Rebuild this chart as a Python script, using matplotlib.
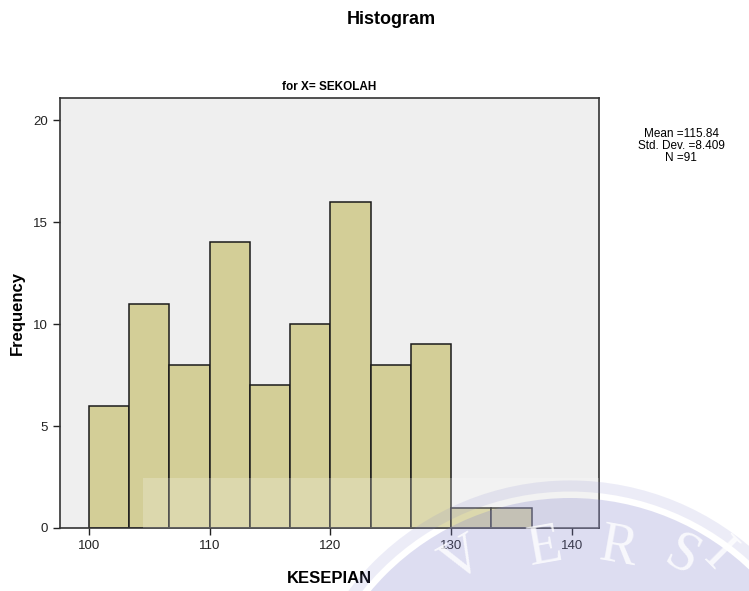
import numpy as np
import matplotlib.pyplot as plt
from matplotlib.patches import Rectangle, Circle
from matplotlib.transforms import IdentityTransform

plt.rcParams['font.family'] = ['Liberation Sans', 'DejaVu Sans']

# histogram of KESEPIAN scores, SEKOLAH group
bin_start = 100.0
bin_width = 40.0 / 12
counts = [6, 11, 8, 14, 7, 10, 16, 8, 9, 1, 1]
x_ticks = [100, 110, 120, 130, 140]
y_ticks = [0, 5, 10, 15, 20]
stats_lines = ["Mean =115.84", "Std. Dev. =8.409", "N =91"]
seal_letters = ["V", "E", "R", "S", "I"]

edges = bin_start + bin_width * np.arange(len(counts) + 1)

W, H = 749, 591
fig = plt.figure(figsize=(W / 100, H / 100), dpi=100)
ax = fig.add_axes([60 / W, 1 - 528 / H, 539 / W, 430 / H])
ax.set_facecolor("#EFEFEF")

ax.bar(edges[:-1], counts, width=bin_width, align="edge",
       color="#D3CE97", edgecolor="#1a1a1a", linewidth=1.1, zorder=2)

ax.set_xlim(97.6, 142.25)
ax.set_ylim(0, 21.08)
ax.set_xticks(x_ticks)
ax.set_yticks(y_ticks)
ax.tick_params(direction="out", length=5, width=1, labelsize=9.5, colors="#222222")
for s in ax.spines.values():
    s.set_color("#333333")
    s.set_linewidth(1.2)

ax.set_title("for X= SEKOLAH", fontsize=8.5, fontweight="bold", pad=6)
ax.set_xlabel("KESEPIAN", fontsize=12, fontweight="bold", labelpad=14)
ax.set_ylabel("Frequency", fontsize=12, fontweight="bold", labelpad=6)

fig.text(391 / W, 1 - 20 / H, "Histogram", ha="center", va="center",
         fontsize=13, fontweight="bold")
fig.text(681 / W, 1 - 146 / H, "\n".join(stats_lines), ha="center",
         va="center", fontsize=8.5, linespacing=1.0)

# university seal watermark (pixel coords, origin bottom-left)
px = IdentityTransform()
cx, cy = 570, H - 758
fig.add_artist(Circle((cx, cy), 272, transform=px, fill=False,
                      edgecolor="#8484CD", alpha=0.15, lw=8, zorder=10))
fig.add_artist(Circle((cx, cy), 260, transform=px, facecolor="#8484CD",
                      edgecolor="none", alpha=0.27, zorder=10))
fig.add_artist(Rectangle((143, H - 528), 456, 50, transform=px,
                         facecolor="white", alpha=0.22, edgecolor="none", zorder=9))
letter_pos = [(462, 560, 30), (545, 548, 10), (618, 548, -10),
              (682, 556, -28), (718, 556, -45)]
for ch, (lx, ly, rot) in zip(seal_letters, letter_pos):
    fig.text(lx / W, 1 - ly / H, ch, ha="center", va="center", fontsize=40,
             family="Liberation Serif", color="white", alpha=0.8,
             rotation=rot, rotation_mode="anchor", zorder=11)

fig.savefig("out.png", dpi=100)
